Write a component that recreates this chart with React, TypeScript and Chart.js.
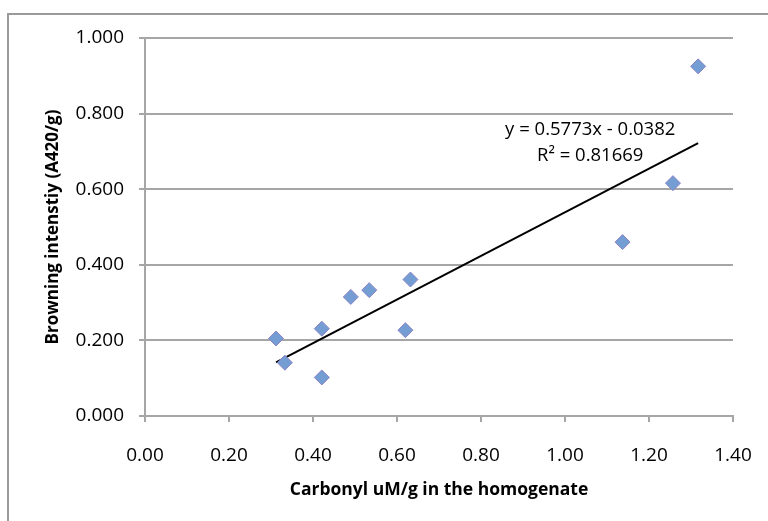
import React, { useEffect, useRef } from "react";
import { Chart, registerables } from "chart.js";

Chart.register(...registerables);

const carbonyl = [0.312, 0.333, 0.421, 0.421, 0.49, 0.534, 0.62, 0.632, 1.137, 1.257, 1.317];
const browning = [0.205, 0.141, 0.231, 0.102, 0.315, 0.333, 0.227, 0.361, 0.46, 0.616, 0.925];
const slope = 0.5773;
const intercept = -0.0382;
const equationLines = ["y = 0.5773x - 0.0382", "R\u00b2 = 0.81669"];
const xTitle = "Carbonyl uM/g in the homogenate";
const yTitle = "Browning intenstiy (A420/g)";

const FONT = "'Open Sans', sans-serif";

export default function App() {
  const ref = useRef<HTMLCanvasElement | null>(null);

  useEffect(() => {
    if (!ref.current) return;
    const xMin = Math.min(...carbonyl);
    const xMax = Math.max(...carbonyl);
    const trend = [xMin, xMax].map((x) => ({ x, y: slope * x + intercept }));
    const points = carbonyl.map((x, i) => ({ x, y: browning[i] }));

    const frame = {
      id: "frame",
      beforeDraw(chart: any) {
        const ctx = chart.ctx;
        ctx.save();
        ctx.fillStyle = "#fff";
        ctx.fillRect(0, 0, chart.width, chart.height);
        ctx.strokeStyle = "#9a9a9a";
        ctx.lineWidth = 2;
        ctx.strokeRect(8, 14, 900, 700);
        ctx.restore();
      },
      afterDatasetsDraw(chart: any) {
        const ctx = chart.ctx;
        const xs = chart.scales.x;
        const ys = chart.scales.y;
        ctx.save();
        ctx.fillStyle = "#000";
        ctx.font = `18.5px ${FONT}`;
        ctx.textAlign = "center";
        ctx.textBaseline = "middle";
        ctx.fillText(equationLines[0], xs.getPixelForValue(1.06), ys.getPixelForValue(0.756));
        ctx.fillText(equationLines[1], xs.getPixelForValue(1.06), ys.getPixelForValue(0.688));
        ctx.restore();
      },
    };

    const chart = new Chart(ref.current, {
      type: "scatter",
      data: {
        datasets: [
          {
            label: "data",
            data: points,
            pointStyle: "rectRot",
            pointRadius: 7.5,
            backgroundColor: "#749dd4",
            borderColor: "#8b84c4",
            borderWidth: 1,
            order: 1,
          },
          {
            type: "line",
            label: "trend",
            data: trend,
            borderColor: "#000",
            borderWidth: 2,
            pointRadius: 0,
            fill: false,
            order: 2,
          } as any,
        ],
      },
      plugins: [frame],
      options: {
        responsive: false,
        animation: false,
        layout: { padding: { left: 0, top: 38, right: 35, bottom: 0 } },
        plugins: { legend: { display: false }, tooltip: { enabled: false } },
        scales: {
          x: {
            type: "linear",
            min: 0,
            max: 1.4,
            afterFit: (s: any) => {
              s.height = 105;
              s.paddingLeft = 0;
              s.paddingRight = 0;
            },
            ticks: {
              stepSize: 0.2,
              padding: 22,
              color: "#000",
              font: { family: FONT, size: 19 },
              callback: (v: any) => Number(v).toFixed(2),
            },
            grid: { drawOnChartArea: false, drawTicks: true, tickLength: 6, color: "#a6a6a6", lineWidth: 2 },
            border: { display: true, color: "#a6a6a6", width: 2 },
            title: {
              display: true,
              text: xTitle,
              color: "#000",
              font: { family: FONT, size: 17.5, weight: "bold" },
              padding: { top: 0, bottom: 20 },
            },
          },
          y: {
            type: "linear",
            min: 0,
            max: 1,
            afterFit: (s: any) => {
              s.width = 145;
              s.paddingTop = 0;
              s.paddingBottom = 0;
            },
            ticks: {
              stepSize: 0.2,
              padding: 15,
              color: "#000",
              font: { family: FONT, size: 19 },
              callback: (v: any) => Number(v).toFixed(3),
            },
            grid: { drawOnChartArea: true, drawTicks: true, tickLength: 6, color: "#a6a6a6", lineWidth: 2 },
            border: { display: true, color: "#a6a6a6", width: 2 },
            title: {
              display: true,
              text: yTitle,
              color: "#000",
              font: { family: FONT, size: 17, weight: "bold" },
              padding: { top: 43, bottom: 0 },
            },
          },
        },
      },
    });
    return () => chart.destroy();
  }, []);

  return (
    <div style={{ position: "absolute", left: 0, top: 0, width: 768, height: 521 }}>
      <canvas ref={ref} width={768} height={521} style={{ display: "block" }} />
    </div>
  );
}
